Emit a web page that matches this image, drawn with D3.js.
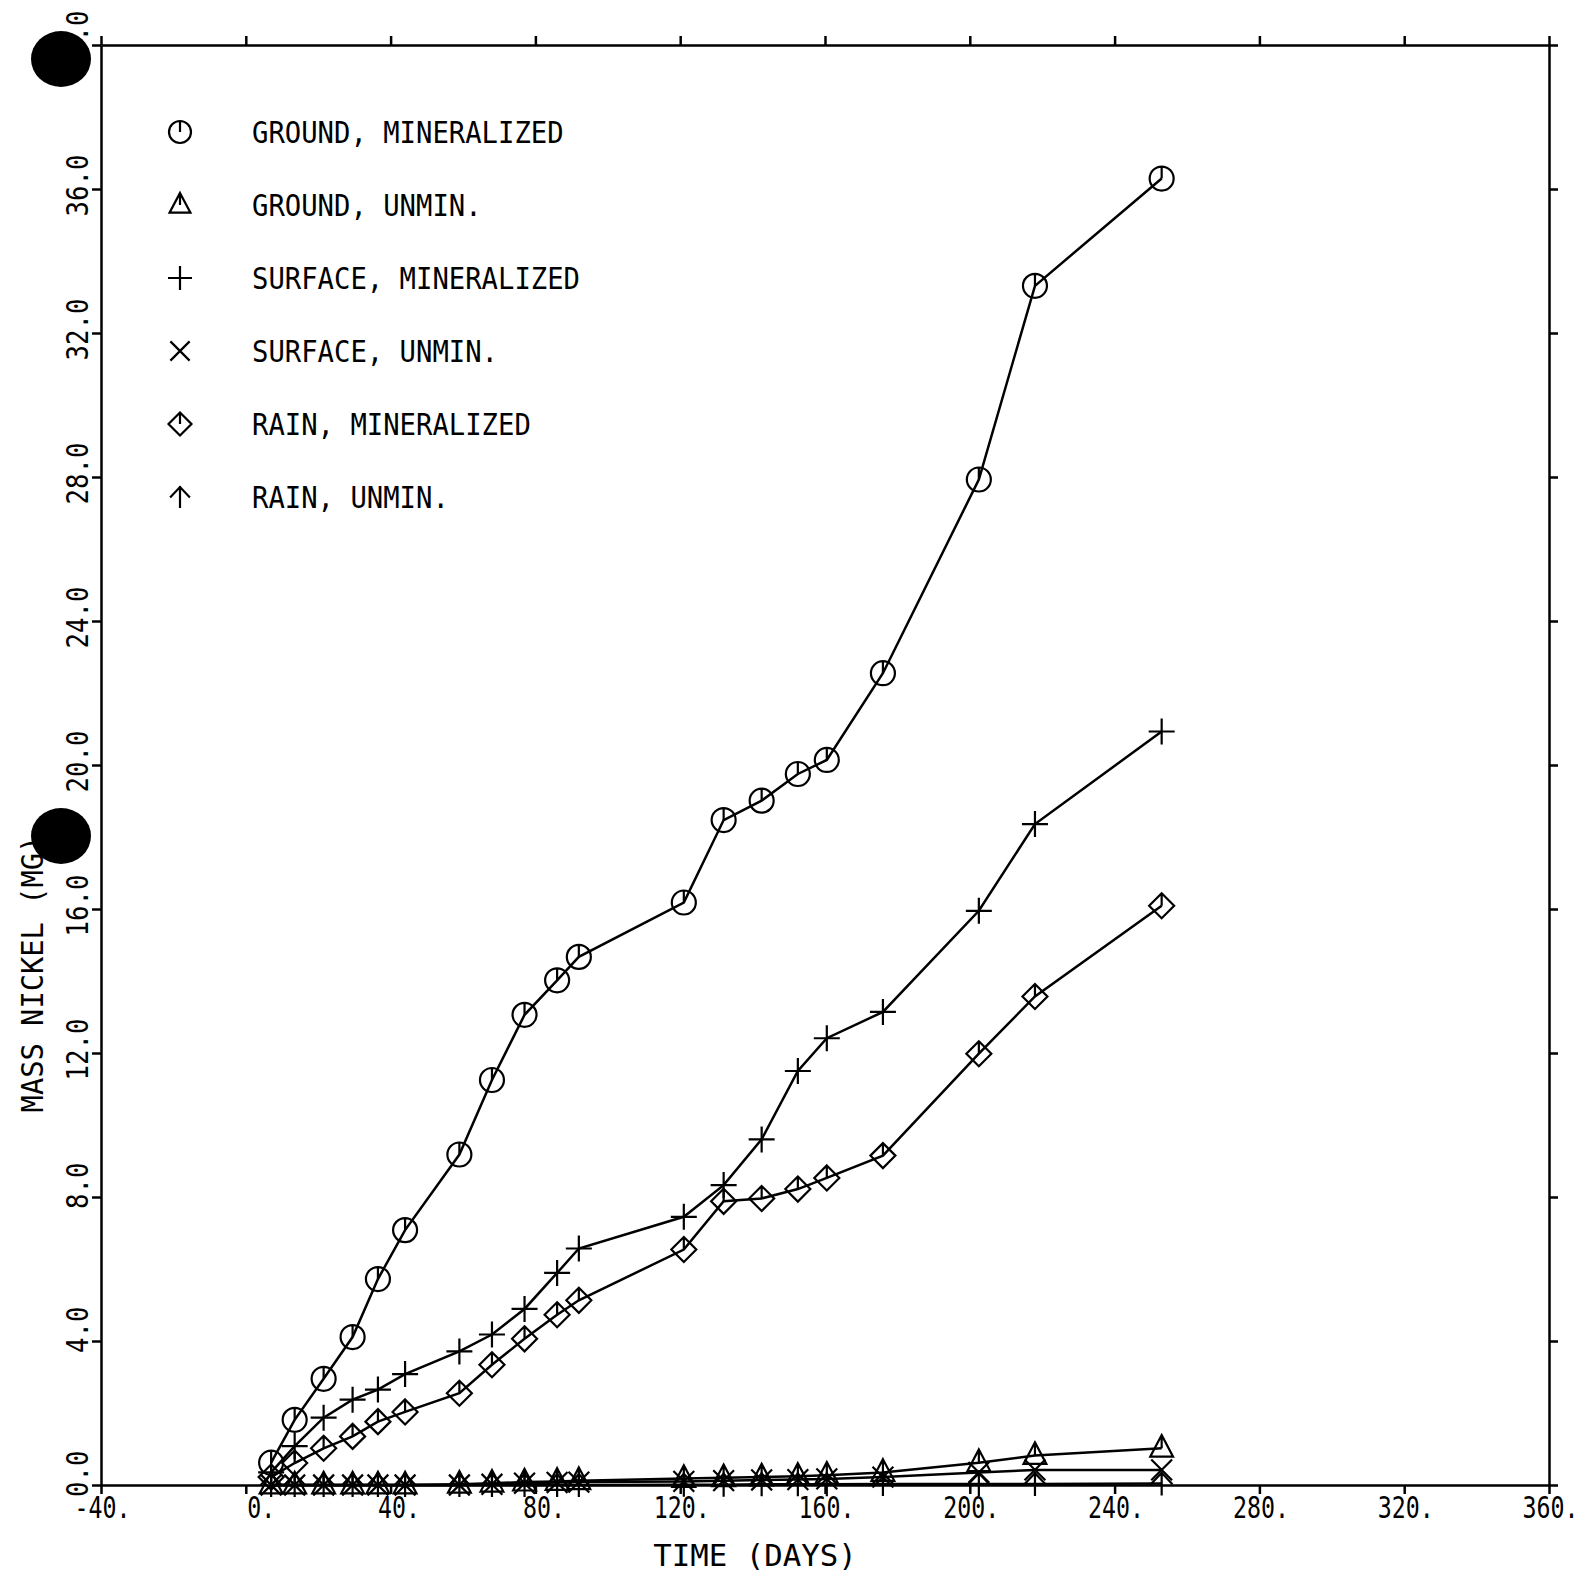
<!DOCTYPE html>
<html>
<head>
<meta charset="utf-8">
<script src="https://cdn.jsdelivr.net/npm/d3@7"></script>
<style>
  body { margin: 0; background: #fff; }
  svg text { font-family: "DejaVu Sans Mono", "Liberation Mono", monospace; fill: #000; }
</style>
</head>
<body>
<div id="chartDiv"></div>
<script>
// sampling days (shared by all six runs)
var days = [7, 13.5, 21.5, 29.5, 36.5, 44, 59, 68, 77, 86, 92, 121, 132, 142.5, 152.5, 160.5, 176, 202.5, 218, 253];

// mass nickel (mg)
var groundMin   = [0.62, 1.81, 2.95, 4.11, 5.72, 7.08, 9.18, 11.25, 13.06, 14.02, 14.67, 16.18, 18.47, 19.01, 19.75, 20.14, 22.55, 27.93, 33.31, 36.29];
var groundUnmin = [0.0, 0.0, 0.0, 0.0, 0.0, 0.0, 0.02, 0.05, 0.08, 0.1, 0.12, 0.18, 0.2, 0.22, 0.24, 0.27, 0.35, 0.62, 0.82, 1.02];
var surfaceMin  = [0.35, 1.08, 1.87, 2.37, 2.65, 3.08, 3.71, 4.18, 4.89, 5.89, 6.57, 7.45, 8.33, 9.6, 11.5, 12.41, 13.14, 15.95, 18.36, 20.93];
var surfaceUnmin= [0.0, 0.0, 0.0, 0.0, 0.0, 0.0, 0.0, 0.02, 0.05, 0.07, 0.08, 0.1, 0.12, 0.14, 0.15, 0.17, 0.22, 0.35, 0.42, 0.42];
var rainMin     = [0.22, 0.61, 1.02, 1.35, 1.76, 2.03, 2.55, 3.34, 4.06, 4.73, 5.13, 6.54, 7.88, 7.96, 8.22, 8.53, 9.15, 11.98, 13.57, 16.09];
var rainUnmin   = [0.0, 0.0, 0.0, 0.0, 0.0, 0.0, 0.0, 0.0, 0.0, 0.0, 0.0, 0.01, 0.01, 0.02, 0.02, 0.02, 0.03, 0.03, 0.03, 0.04];

var legendLabels = ["GROUND, MINERALIZED", "GROUND, UNMIN.", "SURFACE, MINERALIZED", "SURFACE, UNMIN.", "RAIN, MINERALIZED", "RAIN, UNMIN."];
var symbolNames  = ["circle", "triangle", "plus", "cross", "diamond", "arrow"];

var xTicks = [-40, 0, 40, 80, 120, 160, 200, 240, 280, 320, 360];
var yTicks = [0, 4, 8, 12, 16, 20, 24, 28, 32, 36, 40];

var series = [groundMin, groundUnmin, surfaceMin, surfaceUnmin, rainMin, rainUnmin].map(function(v, i) {
  return {name: legendLabels[i], symbol: symbolNames[i], values: v};
});

var svg = d3.select("#chartDiv").append("svg")
    .attr("width", 1596)
    .attr("height", 1574);

var x_scale = d3.scaleLinear().domain([-40, 360]).range([101, 1549]);
var y_scale = d3.scaleLinear().domain([0, 40]).range([1485, 45]);

// plotter symbols
function symbolPath(type, s) {
  switch (type) {
    case "circle":
      return "M" + s + ",0A" + s + "," + s + " 0 1,1 " + (-s) + ",0A" + s + "," + s + " 0 1,1 " + s + ",0M0," + (-s) + "L0,0";
    case "triangle":
      return "M0," + (-1.1 * s) + "L" + (0.95 * s) + "," + (0.7 * s) + "L" + (-0.95 * s) + "," + (0.7 * s) + "ZM0," + (-1.1 * s) + "L0,0";
    case "plus":
      return "M" + (-s) + ",0L" + s + ",0M0," + (-s) + "L0," + s;
    case "cross":
      var k = 0.8 * s;
      return "M" + (-k) + "," + (-k) + "L" + k + "," + k + "M" + (-k) + "," + k + "L" + k + "," + (-k);
    case "diamond":
      return "M0," + (-s) + "L" + s + ",0L0," + s + "L" + (-s) + ",0ZM0," + (-s) + "L0,0";
    case "arrow":
      return "M" + (-0.9 * s) + "," + (0.05 * s) + "L0," + (-0.9 * s) + "L" + (0.9 * s) + "," + (0.05 * s) + "M0," + (-s) + "L0," + s;
  }
}

var symbolSize = {circle: 12, triangle: 12, plus: 13, cross: 13, diamond: 12.5, arrow: 12};

// axes
function styleAxis(g) {
  g.selectAll("path, line").attr("stroke", "#000").attr("stroke-width", 2.5);
  g.attr("font-family", null).attr("font-size", null);
}

var xAxis = svg.append("g")
    .attr("transform", "translate(0," + y_scale(0) + ")")
    .call(d3.axisBottom(x_scale).tickValues(xTicks).tickSize(9).tickSizeOuter(0)
      .tickFormat(function(d) { return d + "."; }))
    .call(styleAxis);

// labels are right-justified a little past each tick, like the plotter did
xAxis.selectAll("text")
    .attr("text-anchor", "end")
    .attr("x", 29)
    .attr("y", 33)
    .attr("dy", null)
    .attr("font-size", 30)
    .attr("textLength", function(d) { return (d + ".").length * 14; })
    .attr("lengthAdjust", "spacingAndGlyphs");

svg.append("g")
    .attr("transform", "translate(0," + y_scale(40) + ")")
    .call(d3.axisTop(x_scale).tickValues(xTicks).tickSize(9).tickSizeOuter(0).tickFormat(""))
    .call(styleAxis);

var yAxis = svg.append("g")
    .attr("transform", "translate(" + x_scale(-40) + ",0)")
    .call(d3.axisLeft(y_scale).tickValues(yTicks).tickSize(9).tickSizeOuter(0)
      .tickFormat(function(d) { return d.toFixed(1); }))
    .call(styleAxis);

yAxis.selectAll("text")
    .attr("text-anchor", "end")
    .attr("x", 35)
    .attr("y", 0)
    .attr("dy", null)
    .attr("transform", "translate(-13,0) rotate(-90)")
    .attr("font-size", 30)
    .attr("textLength", function(d) { return d.toFixed(1).length * 15.5; })
    .attr("lengthAdjust", "spacingAndGlyphs");

svg.append("g")
    .attr("transform", "translate(" + x_scale(360) + ",0)")
    .call(d3.axisRight(y_scale).tickValues(yTicks).tickSize(9).tickSizeOuter(0).tickFormat(""))
    .call(styleAxis);

// axis titles
svg.append("text")
    .attr("x", 755)
    .attr("y", 1566)
    .attr("text-anchor", "middle")
    .attr("font-size", 30)
    .attr("textLength", 11 * 18.5)
    .attr("lengthAdjust", "spacingAndGlyphs")
    .text("TIME (DAYS)");

svg.append("text")
    .attr("transform", "translate(43,974) rotate(-90)")
    .attr("text-anchor", "middle")
    .attr("font-size", 30)
    .attr("textLength", 16 * 17.3)
    .attr("lengthAdjust", "spacingAndGlyphs")
    .text("MASS NICKEL (MG)");

// lines + markers
var line = d3.line()
    .x(function(d, i) { return x_scale(days[i]); })
    .y(function(d) { return y_scale(d); });

var chart_svg = svg.append("g");

series.forEach(function(s) {
  chart_svg.append("path")
      .attr("d", line(s.values))
      .attr("fill", "none")
      .attr("stroke", "#000")
      .attr("stroke-width", 2.5);

  chart_svg.append("g").selectAll("path").data(s.values).enter()
    .append("path")
      .attr("transform", function(d, i) { return "translate(" + x_scale(days[i]) + "," + y_scale(d) + ")"; })
      .attr("d", symbolPath(s.symbol, symbolSize[s.symbol]))
      .attr("fill", "none")
      .attr("stroke", "#000")
      .attr("stroke-width", 2.2);
});

// legend
var legend = svg.append("g").selectAll("g").data(series).enter()
  .append("g")
    .attr("transform", function(d, i) { return "translate(0," + (132 + i * 73) + ")"; });

legend.append("path")
    .attr("transform", "translate(180,0)")
    .attr("d", function(d) { return symbolPath(d.symbol, symbolSize[d.symbol] - 1); })
    .attr("fill", "none")
    .attr("stroke", "#000")
    .attr("stroke-width", 2.2);

legend.append("text")
    .attr("x", 252)
    .attr("y", 11)
    .attr("font-size", 30)
    .attr("textLength", function(d) { return d.name.length * 16.4; })
    .attr("lengthAdjust", "spacingAndGlyphs")
    .text(function(d) { return d.name; });

// punch holes in the scanned sheet
svg.append("ellipse").attr("cx", 61).attr("cy", 59).attr("rx", 30).attr("ry", 28).attr("fill", "#000");
svg.append("ellipse").attr("cx", 61).attr("cy", 836).attr("rx", 30).attr("ry", 28).attr("fill", "#000");
</script>
</body>
</html>
